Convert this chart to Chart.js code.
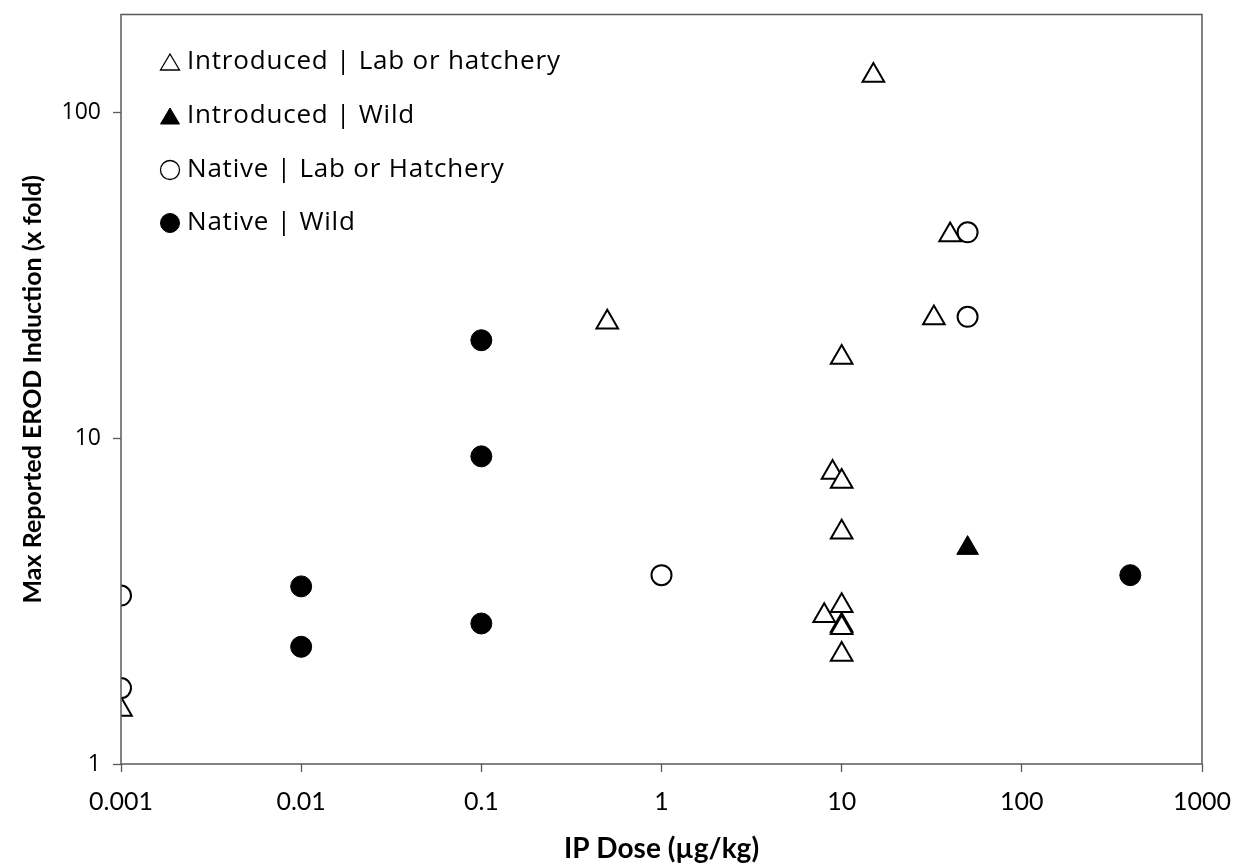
<!DOCTYPE html>
<html>
<head>
<meta charset="utf-8">
<script src="https://cdn.jsdelivr.net/npm/chart.js@4"></script>
<style>
  html, body { margin: 0; padding: 0; background: #fff; }
  #grafico { display: block; }
</style>
</head>
<body>
<canvas id="grafico" width="1246" height="866"></canvas>
<script>
// dados (dose IP x inducao EROD)
const introLabX = [15, 0.5, 40, 32.5, 10, 8.9, 10, 10, 8, 10, 10, 10, 10, 0.001];
const introLabY = [130, 22.7, 42.1, 23.4, 17.7, 7.85, 7.37, 5.15, 2.85, 3.06, 2.66, 2.62, 2.17, 1.47];

const introWildX = [50];
const introWildY = [4.6];

const nativeLabX = [50, 50, 1, 0.001, 0.001];
const nativeLabY = [42.9, 23.6, 3.8, 3.29, 1.71];

const nativeWildX = [0.1, 0.1, 0.1, 0.01, 0.01, 400];
const nativeWildY = [20, 8.8, 2.7, 3.51, 2.29, 3.8];

const legendLabels = [
    'Introduced | Lab or hatchery',
    'Introduced | Wild',
    'Native | Lab or Hatchery',
    'Native | Wild'
];

const xTicks = [0.001, 0.01, 0.1, 1, 10, 100, 1000];
const yTicks = [1, 10, 100];

const corEixo = '#595959';
const fonte = "Lato, 'Open Sans', sans-serif";
const fonteLegenda = "'Open Sans', Lato, sans-serif";

function pontos(xs, ys) {
    return xs.map((x, i) => ({ x: x, y: ys[i] }));
}

// estilo de cada serie (mesma ordem da legenda)
const estilos = [
    { style: 'triangle', fill: '#ffffff', radius: 12.5, border: 2 },
    { style: 'triangle', fill: '#000000', radius: 12.5, border: 1 },
    { style: 'circle', fill: '#ffffff', radius: 10, border: 2 },
    { style: 'circle', fill: '#000000', radius: 10.5, border: 1 }
];

// moldura em volta da area do grafico
const moldura = {
    id: 'moldura',
    afterDatasetsDraw(chart) {
        const a = chart.chartArea;
        const ctx = chart.ctx;
        ctx.save();
        ctx.strokeStyle = corEixo;
        ctx.lineWidth = 1.5;
        ctx.strokeRect(a.left, a.top, a.right - a.left, a.bottom - a.top);
        ctx.restore();
    }
};

// legenda dentro da area, como no original
const legendaInterna = {
    id: 'legendaInterna',
    afterDraw(chart) {
        const ctx = chart.ctx;
        const linhas = [62, 116, 170, 223];
        ctx.save();
        ctx.font = '26px ' + fonteLegenda;
        ctx.letterSpacing = '0.8px';
        ctx.textBaseline = 'middle';
        ctx.textAlign = 'left';
        legendLabels.forEach((txt, i) => {
            const e = estilos[i];
            const cx = 170, cy = linhas[i];
            ctx.beginPath();
            if (e.style === 'triangle') {
                ctx.moveTo(cx, cy - 8);
                ctx.lineTo(cx + 9.5, cy + 8);
                ctx.lineTo(cx - 9.5, cy + 8);
                ctx.closePath();
            } else {
                ctx.arc(cx, cy, 9.5, 0, Math.PI * 2);
            }
            ctx.fillStyle = e.fill;
            ctx.fill();
            ctx.strokeStyle = '#000';
            ctx.lineWidth = e.fill === '#ffffff' ? 1.3 : 1;
            ctx.stroke();
            ctx.fillStyle = '#000';
            ctx.fillText(txt, 187, cy);
        });
        ctx.restore();
    }
};

const series = [
    pontos(introLabX, introLabY),
    pontos(introWildX, introWildY),
    pontos(nativeLabX, nativeLabY),
    pontos(nativeWildX, nativeWildY)
];

new Chart(document.getElementById('grafico'), {
    type: 'scatter',
    data: {
        datasets: series.map((dados, i) => ({
            label: legendLabels[i],
            data: dados,
            order: 4 - i,
            pointStyle: estilos[i].style,
            pointRadius: estilos[i].radius,
            pointBorderWidth: estilos[i].border,
            backgroundColor: estilos[i].fill,
            borderColor: '#000000'
        }))
    },
    options: {
        responsive: false,
        animation: false,
        events: [],
        layout: {
            padding: { left: 0, right: 44, top: 4, bottom: 0 }
        },
        plugins: {
            legend: { display: false },
            tooltip: { enabled: false }
        },
        scales: {
            x: {
                type: 'logarithmic',
                min: 0.001,
                max: 1000,
                afterBuildTicks: scale => {
                    scale.ticks = xTicks.map(v => ({ value: v }));
                },
                afterFit: scale => {
                    scale.height = 102;
                    scale.paddingLeft = 0;
                    scale.paddingRight = 0;
                },
                ticks: {
                    color: '#000',
                    font: { family: fonte, size: 25 },
                    padding: 15,
                    maxRotation: 0,
                    autoSkip: false,
                    callback: v => String(v)
                },
                grid: {
                    drawOnChartArea: false,
                    color: corEixo,
                    tickLength: 8,
                    tickWidth: 1.3
                },
                border: { display: false },
                title: {
                    display: true,
                    text: 'IP Dose (µg/kg)',
                    color: '#000',
                    font: { family: fonte, size: 28, weight: 'bold' },
                    padding: { top: 1, bottom: 0 }
                }
            },
            y: {
                type: 'logarithmic',
                min: 1,
                max: 200,
                afterBuildTicks: scale => {
                    scale.ticks = yTicks.map(v => ({ value: v }));
                },
                afterFit: scale => {
                    scale.width = 121;
                    scale.paddingTop = 0;
                    scale.paddingBottom = 0;
                },
                ticks: {
                    color: '#000',
                    font: { family: fonteLegenda, size: 23 },
                    padding: 12,
                    autoSkip: false,
                    callback: v => String(v)
                },
                grid: {
                    drawOnChartArea: false,
                    color: corEixo,
                    tickLength: 8,
                    tickWidth: 1.3
                },
                border: { display: false },
                title: {
                    display: true,
                    text: 'Max Reported EROD Induction (x fold)',
                    color: '#000',
                    font: { family: fonte, size: 25, weight: 'bold' },
                    padding: { top: 18, bottom: 0 }
                }
            }
        }
    },
    plugins: [moldura, legendaInterna]
});
</script>
</body>
</html>
